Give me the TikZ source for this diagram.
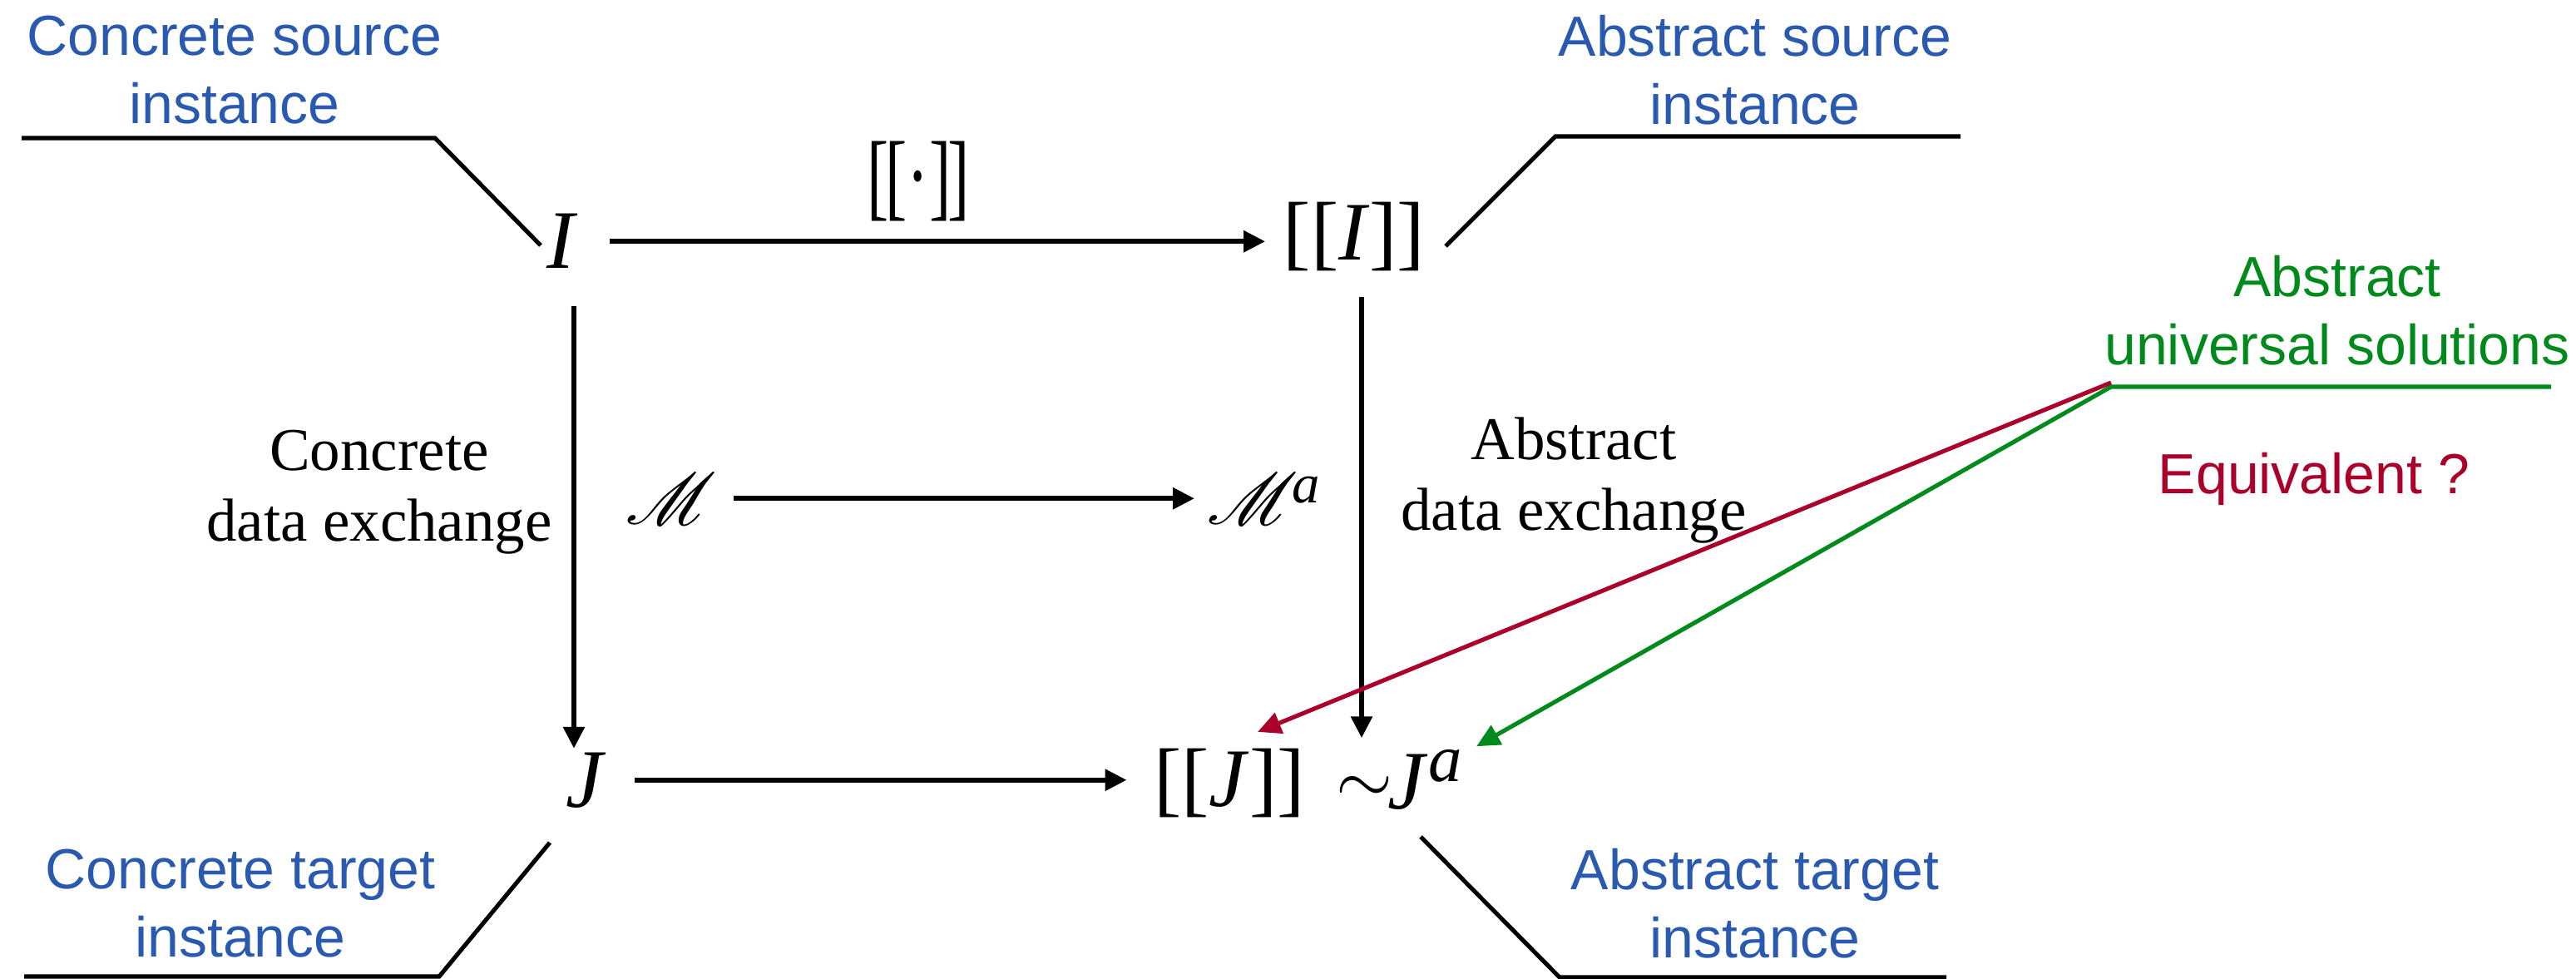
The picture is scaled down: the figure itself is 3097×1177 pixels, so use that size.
\documentclass[tikz,border=0pt]{standalone}
\usepackage{fontspec}
\setmainfont{Liberation Serif}
\newfontfamily\lsans{Liberation Sans}
\usepackage{mathrsfs}
\usepackage{graphicx}
\usetikzlibrary{arrows.meta,calc}
\definecolor{lblue}{RGB}{42,90,176}
\definecolor{lgreen}{RGB}{0,138,28}
\definecolor{lred}{RGB}{170,0,42}
\tikzset{
  lbltxt/.style={font=\lsans\fontsize{19.35pt}{23.33pt}\selectfont, text=lblue, align=center, inner sep=0pt},
  sertxt/.style={font=\fontsize{20.77pt}{24.18pt}\selectfont, align=center, inner sep=0pt},
  mathn/.style={font=\fontsize{28.45pt}{34pt}\selectfont, inner sep=0pt, anchor=base},
  arr/.style={line width=1.7pt, -{Triangle[length=2.6mm,width=2.5mm]}},
  redarr/.style={line width=1.45pt, draw=lred, -{Triangle[length=2.8mm,width=2.6mm,fill=lred]}},
  greenarr/.style={line width=1.45pt, draw=lgreen, line join=miter, -{Triangle[length=2.8mm,width=2.6mm,fill=lgreen]}},
  lead/.style={line width=1.45pt, line join=miter},
}
\begin{document}
\begin{tikzpicture}[x=0.1mm,y=-0.1mm]
\useasboundingbox (0,0) rectangle (3097,1177);
% labels
\node[lbltxt] (cs) at (282,84.5) {Concrete source\\instance};
\node[lbltxt] (as) at (2110,84.5) {Abstract source\\instance};
\node[lbltxt] (ct) at (289,1086.5) {Concrete target\\instance};
\node[lbltxt] (at) at (2110,1086) {Abstract target\\instance};
\node[lbltxt, text=lgreen] (aus) at (2810,373.5) {Abstract\\universal solutions};
\node[lbltxt, text=lred, anchor=base] (eq) at (2782,593) {Equivalent ?};
\node[sertxt] (cde) at (456,591.5) {Concrete\\data exchange};
\node[sertxt] (ade) at (1892,577.5) {Abstract\\data exchange};
% math nodes
\node[mathn] (I) at (676,323) {\textit{I}};
\node[mathn] (II) at (1628,312) {[[\textit{I}]]};
\node[mathn] (J) at (705,970) {\textit{J}};
\node[mathn] (JJ) at (1478,969) {[[\textit{J}]]};
\node[mathn, font=\fontsize{24.88pt}{30pt}\selectfont] (sim) at (1640,965) {$\sim$};
\node[mathn, anchor=base west] (Ja) at (1668,972) {\textit{J}\raisebox{3.3mm}{\fontsize{23pt}{26pt}\selectfont\textit{a}}};
\node[mathn, font=\fontsize{33pt}{40pt}\selectfont] (sem) at (1104,250) {\scalebox{0.68}[1]{[\kern-0.05em[·]\kern-0.05em]}};
\node[inner sep=0pt, anchor=base west] (M) at (752,630) {\scalebox{2.5}{$\mathscr{M}$}};
\node[inner sep=0pt, anchor=base west] (Ma) at (1451,630) {\scalebox{2.5}{$\mathscr{M}$}\kern-0.7mm\raisebox{2.6mm}{\fontsize{19pt}{22pt}\selectfont\textit{a}}};
% coordinates for leader lines
\coordinate (cs1) at (26,166);
\coordinate (cs2) at (523,166);
\coordinate (cs3) at (650,295);
\coordinate (as1) at (1738,296);
\coordinate (as2) at (1870,164);
\coordinate (as3) at (2357,164);
\coordinate (ct1) at (661,1013);
\coordinate (ct2) at (528,1174);
\coordinate (ct3) at (29,1174);
\coordinate (at1) at (1708,1006);
\coordinate (at2) at (1875,1175);
\coordinate (at3) at (2340,1175);
\coordinate (ue) at (3067,465);
\coordinate (us) at (2538,465);
% leader lines
\draw[lead] (cs1) -- (cs2) -- (cs3);
\draw[lead] (as1) -- (as2) -- (as3);
\draw[lead] (ct1) -- (ct2) -- (ct3);
\draw[lead] (at1) -- (at2) -- (at3);
% arrows
\draw[arr, shorten <=3.75mm, shorten >=2.1mm] (I.east) -- (I.east -| II.west);
\draw[arr, shorten <=4.4mm, shorten >=0.4mm] ([xshift=1.4mm]I.south) -- ([xshift=1.4mm]I.south |- J.north);
\draw[arr, shorten <=3.1mm, shorten >=1.3mm] ([xshift=0.9mm]II.south) -- ([xshift=0.9mm]II.south |- Ja.north);
\draw[arr, shorten <=3.3mm, shorten >=3.2mm] (J.east) -- (J.east -| JJ.west);
\draw[arr, shorten <=2mm, shorten >=1.5mm] (M.east) -- (M.east -| Ma.west);
\draw[redarr] ([yshift=0.5mm]us) -- ($(JJ.north)+(34,-19)$);
\draw[greenarr] (ue) -- (us) -- ($(Ja.north east)+(17,-3)$);
\end{tikzpicture}
\end{document}
